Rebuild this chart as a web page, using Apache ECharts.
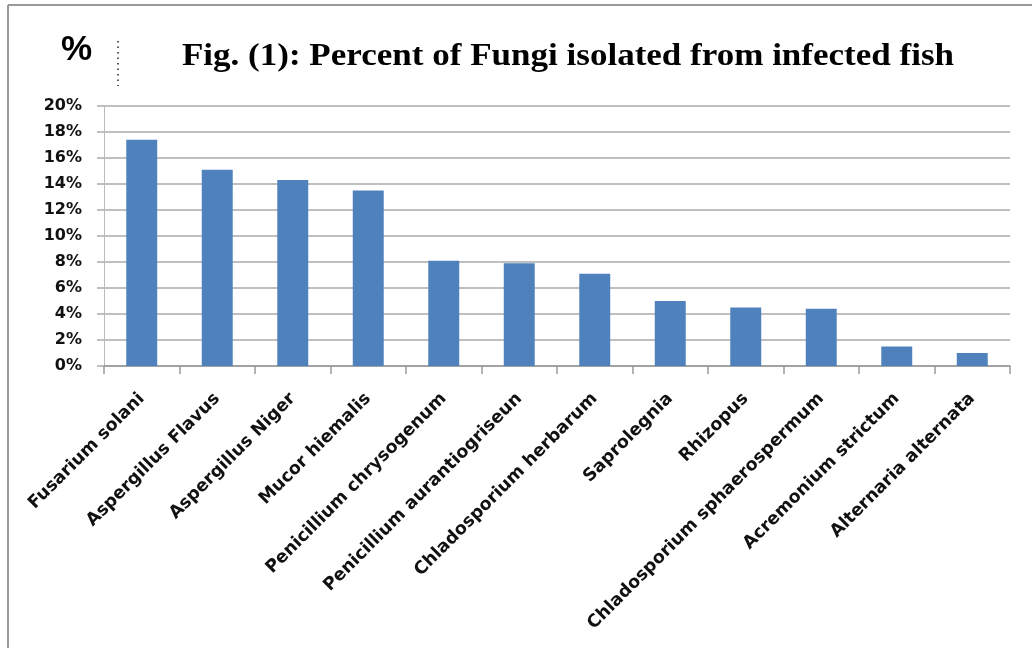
<!DOCTYPE html>
<html>
<head>
<meta charset="utf-8">
<script src="https://cdn.jsdelivr.net/npm/echarts@6/dist/echarts.min.js"></script>
<style>
html,body{margin:0;padding:0;background:#fff;}
#c{width:1032px;height:648px;}
</style>
</head>
<body>
<div id="c"></div>
<script>
const categories = ["Fusarium solani","Aspergillus Flavus","Aspergillus Niger","Mucor hiemalis","Penicillium chrysogenum","Penicillium aurantiogriseun","Chladosporium herbarum","Saprolegnia","Rhizopus","Chladosporium sphaerospermum","Acremonium strictum","Alternaria alternata"];
const percentValues = [17.4, 15.1, 14.3, 13.5, 8.1, 7.9, 7.1, 5.0, 4.5, 4.4, 1.5, 1.0];
const yTicks = [0, 2, 4, 6, 8, 10, 12, 14, 16, 18, 20];
const titleText = "Fig. (1): Percent of Fungi isolated from infected fish";

const chart = echarts.init(document.getElementById('c'), null, {renderer:'canvas'});
chart.setOption({
  animation:false,
  backgroundColor:'#fff',
  grid:{left:104, right:22, top:106, bottom:282, containLabel:false},
  xAxis:{
    type:'category', data:categories, boundaryGap:true,
    axisLine:{show:true, lineStyle:{color:'#999', width:1.5}},
    axisTick:{show:true, alignWithLabel:false, length:8, lineStyle:{color:'#999', width:1.5}},
    axisLabel:{rotate:45, interval:0, margin:30, fontFamily:'DejaVu Sans', fontWeight:'bold', fontSize:17.5, color:'#111'}
  },
  yAxis:{
    type:'value', min:yTicks[0], max:yTicks[yTicks.length-1], interval:2,
    axisLine:{show:true, lineStyle:{color:'#bbb', width:1}},
    axisTick:{show:true, length:7, lineStyle:{color:'#aaa', width:1.5}},
    splitLine:{show:true, lineStyle:{color:'#aaa', width:1.5}},
    axisLabel:{formatter:'{value}%', margin:22, fontFamily:'DejaVu Sans', fontWeight:'bold', fontSize:16, color:'#111'}
  },
  series:[{
    type:'bar', data:percentValues, barWidth:'41%',
    itemStyle:{color:'#4f81bd'}
  }],
  graphic:[
    {type:'line', shape:{x1:8, y1:5, x2:1032, y2:5}, style:{stroke:'#999', lineWidth:2}},
    {type:'line', shape:{x1:8, y1:5, x2:8, y2:648}, style:{stroke:'#999', lineWidth:2}},
    {type:'text', x:568, y:57, scaleX:1.13, style:{text:titleText, align:'center', verticalAlign:'middle', fontFamily:'Liberation Serif', fontWeight:'bold', fontSize:31, fill:'#000'}},
    {type:'text', left:61, top:33, style:{text:'%', fontFamily:'Liberation Sans', fontWeight:'bold', fontSize:35, fill:'#000'}},
    {type:'line', shape:{x1:118, y1:41, x2:118, y2:86}, style:{stroke:'#222', lineWidth:1.5, lineDash:[1.5,4]}}
  ]
});
</script>
</body>
</html>
